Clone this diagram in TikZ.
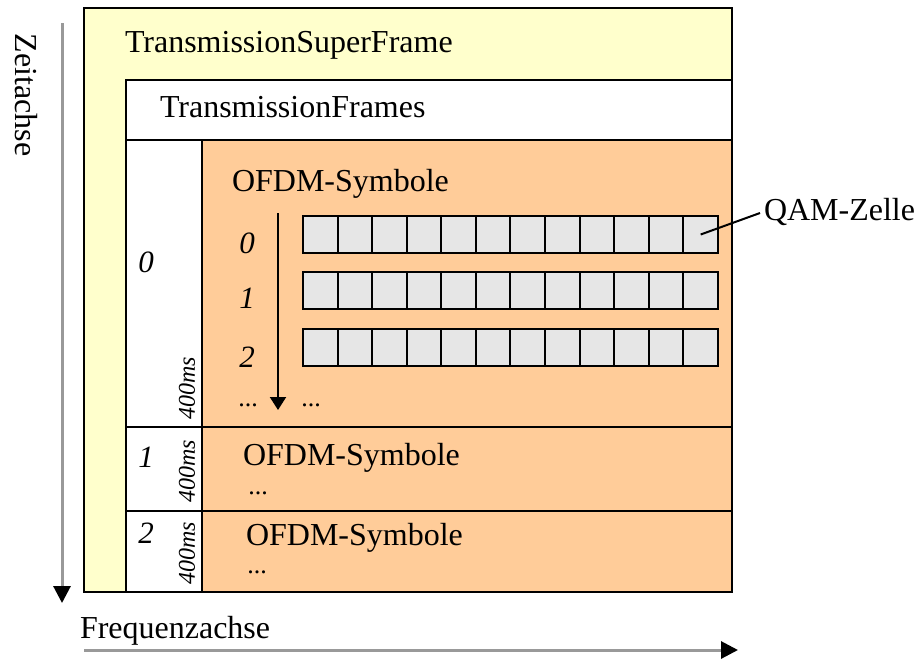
\documentclass[tikz,border=0pt]{standalone}
\usepackage{fontspec}
\setmainfont{Liberation Serif}
\usetikzlibrary{arrows.meta}
\definecolor{superyellow}{HTML}{FFFFCC}
\definecolor{ofdmorange}{HTML}{FFCC99}
\definecolor{cellgray}{HTML}{E6E6E6}
\definecolor{axisgray}{HTML}{999999}

\begin{document}
\begin{tikzpicture}[x=1pt,y=-1pt,line width=2pt,
                    every node/.style={inner sep=0pt,font=\fontsize{32}{36}\selectfont},
                    lbl/.style={anchor=base west},
                    num/.style={anchor=base,font=\fontsize{31}{36}\selectfont\itshape},
                    dots/.style={anchor=base,text height=5pt,text depth=0pt,
                                 font=\fontsize{26}{28}\selectfont},
                    dur/.style={rotate=90,font=\fontsize{24}{28}\selectfont\itshape},
                    cell/.style={draw,fill=cellgray,minimum width=34.58pt,
                                 minimum height=37pt,anchor=north west},
                    axis/.style={draw=axisgray,line width=3pt,
                                 -{Triangle[length=17pt,width=17pt,color=black]}}]
  \useasboundingbox (0,0) rectangle (915,659);

  % frames
  \fill[superyellow] (84,8) rectangle (732,592);
  \fill[white] (126,80) rectangle (732,592);
  \fill[ofdmorange] (202,140) rectangle (732,592);
  \draw (126,592) -- (126,80) -- (732,80);
  \draw (126,140) -- (732,140);
  \draw (202,140) -- (202,592);
  \draw (126,427) -- (732,427);
  \draw (126,511) -- (732,511);
  \draw (84,8) rectangle (732,592);

  \node[lbl] (super)  at (124,52)  {TransmissionSuperFrame};
  \node[lbl] (frames) at (159,117) {TransmissionFrames};

  % frame 0
  \node[lbl] (ofdm0) at (231,191) {OFDM-Symbole};
  \foreach \r/\yy in {0/215,1/271,2/328}
    \foreach \c in {0,...,11}
      \node[cell] (c\r-\c) at (302+\c*34.58,\yy) {};
  \node[num] (s0) at (247,253) {0};
  \node[num] (s1) at (247,308) {1};
  \node[num] (s2) at (247,367) {2};
  \node[dots] (dotsA) at (248,406) {...};
  \node[dots] (dotsB) at (311,406) {...};
  \coordinate (down0) at (278,213);
  \coordinate (down1) at (278,410);
  \draw[-{Triangle[length=13pt,width=16pt]}] (down0) -- (down1);

  \node[lbl] (qam) at (763,220) {QAM-Zelle};
  \coordinate (qamend) at (760,213);
  \draw (c0-11.center) -- (qamend);

  % frame numbers
  \node[num] (f0) at (146,272) {0};
  \node[num] (f1) at (146,467) {1};
  \node[num] (f2) at (146,543) {2};
  \node[dur] (d0) at (187,388) {400ms};
  \node[dur] (d1) at (187,471) {400ms};
  \node[dur] (d2) at (187,553) {400ms};

  % frames 1 and 2
  \node[lbl] (ofdm1) at (242,465) {OFDM-Symbole};
  \node[dots] (dots1) at (258,494) {...};
  \node[lbl] (ofdm2) at (245,545) {OFDM-Symbole};
  \node[dots] (dots2) at (257,573) {...};

  % axes
  \node[rotate=-90] (zeit) at (26,95) {Zeitachse};
  \coordinate (t0) at (62,23);
  \coordinate (t1) at (62,603);
  \draw[axis] (t0) -- (t1);
  \node[lbl] (freq) at (79,638) {Frequenzachse};
  \coordinate (f0a) at (84,650);
  \coordinate (f1a) at (738,650);
  \draw[axis] (f0a) -- (f1a);
\end{tikzpicture}
\end{document}
